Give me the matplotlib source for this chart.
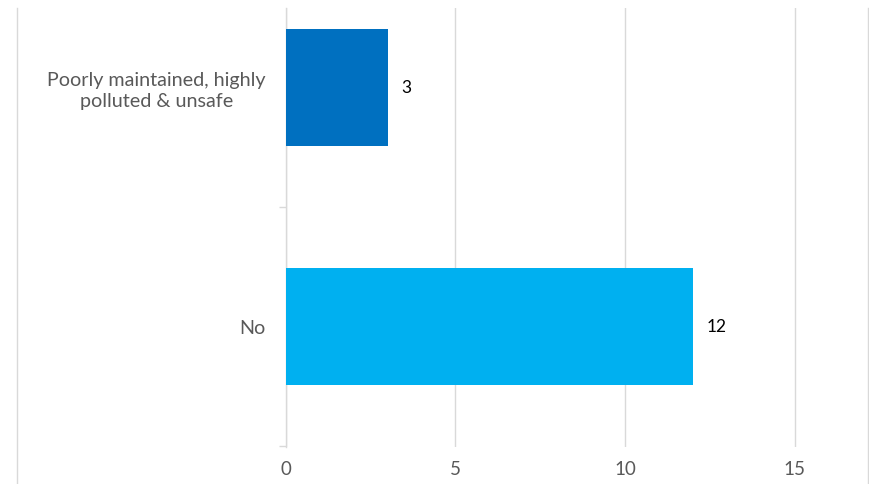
import matplotlib
matplotlib.use("Agg")
import matplotlib.pyplot as plt
from matplotlib.lines import Line2D

categories = ["No", "Poorly maintained, highly\npolluted & unsafe"]
values = [12, 3]
colors = ["#00B0F0", "#0070C0"]
xticks = [0, 5, 10, 15]

W, H = 870, 484
fig = plt.figure(figsize=(W / 100, H / 100), dpi=100)
plt.rcParams['font.family'] = ['Lato', 'DejaVu Sans']

left, right, top, bottom = 286, 868, 8, 447
ax = fig.add_axes([left / W, 1 - bottom / H, (right - left) / W, (bottom - top) / H])

ypos = list(range(len(categories)))
bars = ax.barh(ypos, values, height=0.49, color=colors, zorder=3)
ax.set_xlim(0, (right - left) / 33.9)
ax.set_ylim(-0.504, 1.333)

ax.set_xticks(xticks)
ax.set_xticklabels([str(t) for t in xticks])
ax.set_yticks(ypos)
ax.set_yticklabels(categories, multialignment='center', linespacing=1.3)
ax.set_yticks([-0.5, 0.5], minor=True)

ax.grid(axis='x', color='#D9D9D9', linewidth=1, zorder=0)
for s in ['top', 'right', 'bottom']:
    ax.spines[s].set_visible(False)
ax.spines['left'].set_color('#D9D9D9')
ax.spines['left'].set_linewidth(1)

ax.tick_params(axis='x', length=0, pad=10, labelsize=13.5, labelcolor='#595959')
ax.tick_params(axis='y', which='major', length=0, pad=14.5, labelsize=14.2, labelcolor='#595959')
ax.tick_params(axis='y', which='minor', length=5, width=1, color='#D9D9D9', direction='out')

for b, v in zip(bars, values):
    ax.text(b.get_width() + 0.4, b.get_y() + b.get_height() / 2, str(v),
            va='center', ha='left', fontsize=12.5, color='#000000')

# outer chart borders
for xp in (17, 868):
    fig.add_artist(Line2D([xp / W, xp / W], [0, 1 - top / H], transform=fig.transFigure,
                          color='#D9D9D9', linewidth=1))

fig.savefig("out.png", dpi=100, facecolor='white')
